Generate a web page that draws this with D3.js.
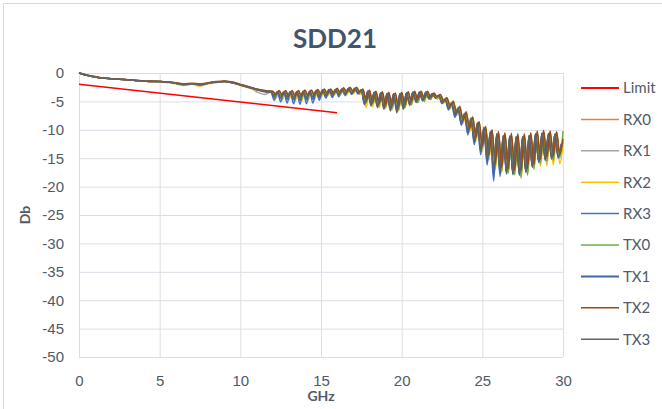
<!DOCTYPE html>
<html>
<head>
<meta charset="utf-8">
<script src="https://cdn.jsdelivr.net/npm/d3@7"></script>
<style>
  body { margin: 0; background: #fff; }
  svg { font-family: Lato, "Open Sans", sans-serif; }
  .grid line { stroke: #dadfe6; stroke-width: 1; }
  .grid text { fill: #505a68; font-size: 15px; }
  .series { fill: none; stroke-width: 1.5; stroke-linejoin: round; }
</style>
</head>
<body>
<script>
// x grid: 0.5 GHz steps up to 12 GHz, then ripple peaks/troughs every 0.2 GHz
var freqLow = d3.range(0, 12, 0.5);
var freqA = freqLow.concat(d3.range(0, 91).map(function(k) { return +(12 + 0.2 * k).toFixed(1); })),
    freqB = freqLow.concat(d3.range(0, 91).map(function(k) { return +(11.9 + 0.2 * k).toFixed(1); }));

var xTicks = [0, 5, 10, 15, 20, 25, 30],
    yTicks = [0, -5, -10, -15, -20, -25, -30, -35, -40, -45, -50];

var limitFreq = [0, 16],
    limitDb = [-2, -7];

// values, dB
var rx0 = [0,-0.4,-0.7,-0.9,-1.0,-1.1,-1.2,-1.3,-1.4,-1.5,-1.5,-1.6,-1.8,-2.0,-1.9,-2.0,-1.8,-1.6,-1.5,-1.7,-2.1,-2.5,-2.9,-3.2,
  -3.3,-4.0,-3.3,-4.1,-3.4,-4.2,-3.3,-4.3,-3.4,-4.4,-3.3,-4.3,-3.2,-4.2,-3.1,-4.0,-3.0,-3.9,-3.0,-3.8,-2.9,-3.7,-2.8,-3.6,-2.8,-3.5,-2.7,-3.4,
  -3.0,-5.3,-3.2,-5.5,-3.4,-5.8,-3.5,-6.0,-3.6,-6.2,-3.7,-6.4,-3.6,-5.9,-3.5,-5.3,-3.4,-5.0,-3.4,-4.8,-3.3,-4.5,
  -3.7,-4.4,-4.0,-5.2,-4.6,-6.1,-5.3,-7.3,-6.2,-8.6,-7.2,-10.2,-8.0,-11.8,-8.8,-13.4,-9.6,-15.0,-10.2,-16.6,
  -10.6,-17.0,-10.9,-17.2,-11.0,-17.4,-11.1,-17.5,-11.1,-17.0,-10.9,-16.2,-10.6,-15.5,-10.5,-15.1,-10.6,-14.9,-10.7,-14.6,-12.2];

var rx1 = [0,-0.4,-0.7,-0.9,-1.0,-1.1,-1.2,-1.3,-1.4,-1.4,-1.5,-1.6,-1.7,-1.9,-1.9,-2.0,-1.8,-1.6,-1.5,-1.7,-2.0,-2.4,-3.3,-3.8,
  -3.4,-3.9,-3.3,-4.0,-3.3,-4.1,-3.3,-4.2,-3.3,-4.2,-3.2,-4.2,-3.2,-4.1,-3.1,-3.9,-3.0,-3.8,-2.9,-3.7,-2.9,-3.6,-2.8,-3.5,-2.7,-3.4,-2.7,-3.5,
  -3.0,-5.4,-3.2,-5.6,-3.4,-5.8,-3.5,-6.0,-3.6,-6.3,-3.7,-6.6,-3.6,-6.1,-3.5,-5.5,-3.4,-5.1,-3.4,-4.8,-3.4,-4.5,
  -3.7,-4.3,-3.9,-5.0,-4.5,-5.9,-5.2,-7.1,-6.1,-8.4,-7.1,-9.9,-7.9,-11.5,-8.7,-13.1,-9.5,-14.7,-10.3,-16.4,
  -10.7,-16.9,-11.0,-17.2,-11.1,-17.4,-11.2,-17.5,-11.2,-17.1,-11.0,-16.3,-10.6,-15.5,-10.5,-15.1,-10.6,-14.9,-10.8,-14.6,-12.5];

var rx2 = [0,-0.4,-0.7,-0.9,-1.0,-1.1,-1.2,-1.3,-1.4,-1.5,-1.6,-1.7,-1.9,-2.2,-2.0,-2.3,-1.9,-1.7,-1.5,-1.7,-2.2,-2.6,-3.0,-3.3,
  -3.3,-4.5,-3.4,-4.7,-3.4,-4.8,-3.3,-4.9,-3.4,-4.9,-3.3,-4.8,-3.3,-4.7,-3.1,-4.3,-3.0,-4.1,-3.0,-4.0,-2.9,-3.9,-2.9,-3.8,-2.8,-3.7,-2.8,-3.8,
  -3.1,-6.1,-3.3,-6.0,-3.5,-6.1,-3.6,-6.2,-3.7,-6.5,-3.8,-6.7,-3.7,-6.2,-3.6,-5.6,-3.5,-5.2,-3.5,-5.0,-3.5,-4.7,
  -3.8,-4.6,-4.1,-5.3,-4.8,-6.3,-5.5,-7.5,-6.4,-8.8,-7.4,-10.4,-8.2,-12.0,-9.0,-13.8,-9.8,-15.4,-10.5,-17.0,
  -10.9,-17.5,-11.2,-17.7,-11.3,-17.9,-11.4,-18.2,-11.4,-17.8,-11.2,-17.0,-10.9,-16.4,-10.8,-16.3,-10.9,-16.2,-11.0,-16.0,-12.8];

var rx3 = [0,-0.4,-0.7,-0.9,-1.0,-1.1,-1.2,-1.3,-1.4,-1.5,-1.5,-1.6,-1.8,-2.1,-1.9,-2.1,-1.8,-1.6,-1.5,-1.7,-2.1,-2.5,-2.9,-3.3,
  -3.4,-4.8,-3.4,-5.1,-3.4,-5.3,-3.4,-5.4,-3.4,-5.5,-3.3,-5.4,-3.3,-5.3,-3.2,-4.8,-3.1,-4.4,-3.0,-4.3,-2.9,-4.2,-2.9,-4.0,-2.8,-3.8,-2.8,-3.7,
  -3.0,-5.4,-3.2,-5.5,-3.4,-5.7,-3.5,-5.9,-3.6,-6.1,-3.7,-6.3,-3.6,-5.8,-3.5,-5.3,-3.4,-5.0,-3.4,-4.7,-3.4,-4.4,
  -3.6,-4.4,-4.0,-5.4,-4.7,-6.5,-5.5,-7.8,-6.4,-9.2,-7.4,-10.9,-8.2,-12.6,-9.0,-14.4,-9.8,-16.2,-10.4,-19.0,
  -10.8,-18.2,-11.1,-17.8,-11.2,-17.9,-11.3,-18.0,-11.3,-17.5,-11.1,-16.6,-10.8,-15.8,-10.6,-15.4,-10.7,-15.2,-10.8,-15.0,-12.4];

var tx0 = [0,-0.4,-0.7,-0.9,-1.0,-1.1,-1.2,-1.3,-1.4,-1.5,-1.5,-1.6,-1.8,-2.0,-1.9,-2.0,-1.8,-1.6,-1.5,-1.6,-2.0,-2.4,-2.8,-3.1,
  -3.2,-4.0,-3.2,-4.1,-3.2,-4.2,-3.2,-4.2,-3.2,-4.3,-3.1,-4.2,-3.1,-4.1,-3.0,-3.9,-2.9,-3.8,-2.9,-3.7,-2.8,-3.6,-2.7,-3.5,-2.7,-3.4,-2.6,-3.4,
  -2.9,-5.2,-3.1,-5.4,-3.3,-5.7,-3.4,-6.0,-3.5,-6.3,-3.6,-6.5,-3.5,-6.1,-3.4,-5.6,-3.3,-5.2,-3.3,-5.0,-3.3,-4.6,
  -3.6,-4.3,-3.8,-4.9,-4.3,-5.8,-4.9,-6.9,-5.8,-8.2,-6.8,-9.8,-7.7,-11.4,-8.6,-13.0,-9.4,-14.6,-10.1,-16.3,
  -10.5,-17.2,-10.8,-17.6,-10.9,-17.9,-11.0,-18.5,-11.0,-18.0,-10.8,-16.8,-10.5,-15.9,-10.4,-15.6,-10.4,-15.4,-10.3,-14.9,-10.2];

var tx1 = [0,-0.4,-0.7,-0.9,-1.0,-1.1,-1.2,-1.3,-1.4,-1.5,-1.5,-1.6,-1.8,-2.0,-1.9,-2.1,-1.8,-1.6,-1.5,-1.7,-2.1,-2.5,-2.9,-3.2,
  -3.3,-4.3,-3.3,-4.5,-3.3,-4.6,-3.3,-4.7,-3.3,-4.8,-3.2,-4.7,-3.2,-4.6,-3.1,-4.3,-3.0,-4.1,-2.9,-4.0,-2.9,-3.9,-2.8,-3.8,-2.7,-3.7,-2.7,-3.6,
  -3.0,-5.3,-3.2,-5.5,-3.4,-5.8,-3.5,-6.0,-3.6,-6.2,-3.7,-6.4,-3.6,-5.9,-3.5,-5.4,-3.4,-5.0,-3.4,-4.7,-3.4,-4.4,
  -3.6,-4.4,-3.9,-5.2,-4.6,-6.3,-5.4,-7.5,-6.3,-8.9,-7.3,-10.5,-8.1,-12.2,-8.9,-13.9,-9.7,-15.6,-10.4,-18.0,
  -10.8,-17.6,-11.1,-17.6,-11.2,-17.8,-11.3,-17.9,-11.3,-17.4,-11.1,-16.5,-10.7,-15.7,-10.6,-15.3,-10.7,-15.1,-10.8,-14.8,-12.6];

var tx2 = [0,-0.4,-0.6,-0.9,-1.0,-1.1,-1.2,-1.3,-1.4,-1.4,-1.5,-1.6,-1.7,-1.9,-1.8,-1.9,-1.7,-1.5,-1.4,-1.6,-2.0,-2.4,-2.8,-3.1,
  -3.2,-3.8,-3.1,-3.9,-3.1,-4.0,-3.1,-4.0,-3.1,-4.1,-3.0,-4.0,-3.0,-3.9,-2.9,-3.8,-2.8,-3.7,-2.8,-3.6,-2.7,-3.5,-2.6,-3.4,-2.5,-3.3,-2.5,-3.3,
  -2.8,-5.0,-3.0,-5.2,-3.2,-5.4,-3.3,-5.6,-3.4,-5.8,-3.5,-6.0,-3.4,-5.6,-3.3,-5.0,-3.2,-4.7,-3.2,-4.5,-3.2,-4.3,
  -3.5,-4.2,-3.8,-4.9,-4.4,-5.8,-5.1,-7.0,-6.0,-8.3,-7.0,-9.8,-7.8,-11.3,-8.6,-12.9,-9.4,-14.5,-10.0,-16.0,
  -10.3,-16.6,-10.5,-16.9,-10.6,-17.1,-10.7,-17.2,-10.7,-16.8,-10.5,-16.0,-10.2,-15.2,-10.1,-14.8,-10.2,-14.6,-10.4,-14.3,-11.6];

var tx3 = [0,-0.4,-0.7,-0.9,-1.0,-1.1,-1.2,-1.3,-1.4,-1.5,-1.5,-1.6,-1.8,-2.0,-1.9,-2.0,-1.8,-1.6,-1.5,-1.7,-2.1,-2.5,-2.9,-3.2,
  -3.3,-4.0,-3.3,-4.1,-3.3,-4.2,-3.3,-4.3,-3.3,-4.3,-3.2,-4.3,-3.2,-4.2,-3.1,-4.0,-3.0,-3.9,-2.9,-3.8,-2.9,-3.7,-2.8,-3.6,-2.7,-3.5,-2.7,-3.5,
  -3.0,-5.6,-3.2,-5.8,-3.4,-6.1,-3.5,-6.4,-3.6,-6.7,-3.7,-7.0,-3.6,-6.4,-3.5,-5.7,-3.4,-5.2,-3.4,-4.9,-3.4,-4.6,
  -3.7,-4.4,-4.0,-5.1,-4.6,-6.0,-5.3,-7.2,-6.2,-8.6,-7.2,-10.1,-8.0,-11.7,-8.8,-13.3,-9.6,-15.0,-10.3,-16.7,
  -10.7,-17.2,-11.0,-17.5,-11.1,-17.7,-11.2,-17.8,-11.2,-17.3,-11.0,-16.4,-10.7,-15.6,-10.6,-15.2,-10.7,-15.0,-10.8,-14.7,-12.6];

var seriesNames = ["Limit", "RX0", "RX1", "RX2", "RX3", "TX0", "TX1", "TX2", "TX3"],
    seriesColors = ["#ff0000", "#ed7d31", "#a5a5a5", "#ffc000", "#4472c4", "#70ad47", "#41689f", "#9e480e", "#636363"],
    seriesFreq = [limitFreq, freqA, freqB, freqA, freqB, freqA, freqB, freqA, freqB],
    seriesValues = [limitDb, rx0, rx1, rx2, rx3, tx0, tx1, tx2, tx3];

var W = 662, H = 409,
    m = {top: 73, right: 99, bottom: 52, left: 79},
    w = W - m.left - m.right,
    h = H - m.top - m.bottom;

var x = d3.scaleLinear().domain([0, 30]).range([0, w]),
    y = d3.scaleLinear().domain([-50, 0]).range([h, 0]);

var svg = d3.select("body").append("svg")
    .attr("width", W)
    .attr("height", H);

// chart border
svg.append("rect")
    .attr("x", 3.5).attr("y", 3.5)
    .attr("width", 700).attr("height", 430)
    .attr("fill", "none")
    .attr("stroke", "#d9d9d9");

svg.append("text")
    .attr("x", 335).attr("y", 48)
    .attr("text-anchor", "middle")
    .attr("font-size", 26).attr("font-weight", "bold")
    .attr("fill", "#44546a")
    .text("SDD21");

var g = svg.append("g")
    .attr("transform", "translate(" + m.left + "," + m.top + ")");

g.append("g")
    .attr("class", "grid")
    .call(d3.axisLeft(y).tickValues(yTicks).tickSize(-w).tickPadding(15).tickFormat(function(d) { return String(d); }))
    .call(function(a) { a.select(".domain").remove(); })
    .selectAll("text").attr("font-family", null).attr("font-size", null);

g.append("g")
    .attr("class", "grid")
    .attr("transform", "translate(0," + h + ")")
    .call(d3.axisBottom(x).tickValues(xTicks).tickSize(-h).tickPadding(18).tickFormat(function(d) { return String(d); }))
    .call(function(a) { a.select(".domain").remove(); })
    .selectAll("text").attr("font-family", null).attr("font-size", null);

// axis titles
svg.append("text")
    .attr("x", m.left + w / 2).attr("y", 401)
    .attr("text-anchor", "middle")
    .attr("font-size", 14).attr("font-weight", "bold")
    .attr("fill", "#505a68")
    .text("GHz");

svg.append("text")
    .attr("transform", "translate(30," + (m.top + h / 2) + ") rotate(-90)")
    .attr("text-anchor", "middle")
    .attr("font-size", 14).attr("font-weight", "bold")
    .attr("fill", "#505a68")
    .text("Db");

var line = d3.line()
    .x(function(d) { return x(d[0]); })
    .y(function(d) { return y(d[1]); })
    .curve(d3.curveMonotoneX);

var series = seriesNames.map(function(name, i) {
  var f = seriesFreq[i], v = seriesValues[i], n = Math.min(f.length, v.length);
  return {name: name, color: seriesColors[i], points: d3.range(n).map(function(j) { return [f[j], v[j]]; })};
});

g.append("g").selectAll("path")
    .data(series)
  .enter().append("path")
    .attr("class", "series")
    .attr("stroke", function(d) { return d.color; })
    .attr("stroke-width", function(d) { return d.name === "Limit" ? 1.75 : 1.5; })
    .attr("d", function(d) { return line(d.points); });

// legend
var legend = svg.append("g").selectAll("g")
    .data(series)
  .enter().append("g")
    .attr("transform", function(d, i) { return "translate(581," + (88 + i * 31.4) + ")"; });

legend.append("line")
    .attr("x1", 0).attr("x2", 38)
    .attr("stroke", function(d) { return d.color; })
    .attr("stroke-width", function(d) { return d.name === "Limit" || d.name === "TX1" ? 2 : 1.5; });

legend.append("text")
    .attr("x", 42).attr("dy", "0.36em")
    .attr("font-size", 15)
    .attr("fill", "#505a68")
    .text(function(d) { return d.name; });
</script>
</body>
</html>
